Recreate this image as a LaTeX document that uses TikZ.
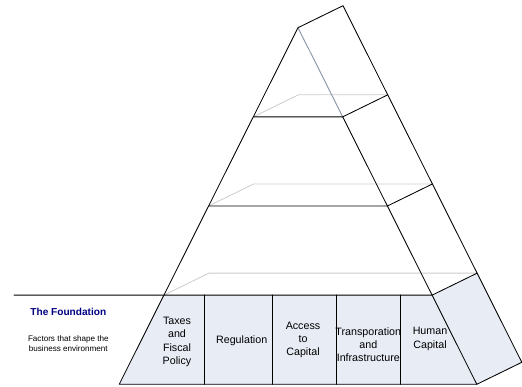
\documentclass[tikz,border=0pt]{standalone}
\usepackage{fontspec}
\setmainfont{Liberation Sans}
\usetikzlibrary{calc}
\definecolor{BaseFill}{HTML}{E8ECF5}
\definecolor{BackGray}{HTML}{CCCCCC}
\definecolor{EdgeBlue}{HTML}{8F9AAB}
\definecolor{TitleNavy}{HTML}{000080}

\begin{document}
\begin{tikzpicture}[x=1pt,y=-1pt, line cap=round, line join=round]
\useasboundingbox (0,0) rectangle (522,387);

% corner points: front face, back face offset (45,-22)
\coordinate (apex)  at (298,27.7);
\coordinate (apexB) at (343,5.7);
\coordinate (l1L) at (253.3,116.85);  \coordinate (l1R) at (342.7,116.85);
\coordinate (l2L) at (208.6,206);     \coordinate (l2R) at (387.4,206);
\coordinate (l3L) at (163.9,295.15);  \coordinate (l3R) at (432.1,295.15);
\coordinate (botL) at (119.2,384.3);  \coordinate (botR) at (476.8,384.3);
\coordinate (l1B) at (387.7,94.85);
\coordinate (l2B) at (432.4,184);
\coordinate (l3B) at (477.1,273.15);
\coordinate (botB) at (521.8,362.3);

% foundation fills
\fill[BaseFill] (l3L) -- (l3R) -- (botR) -- (botL) -- cycle;
\fill[BaseFill] (l3R) -- (l3B) -- (botB) -- (botR) -- cycle;

% hidden back edges of the tiers
\draw[BackGray, line width=0.8pt] (l1L) -- ++(45,-22) -- (l1B);
\draw[BackGray, line width=0.8pt] (l2L) -- ++(45,-22) -- (l2B);
\draw[BackGray, line width=0.8pt] (l3L) -- ++(45,-22) -- (l3B);

% top tier front-right edge
\draw[EdgeBlue, line width=1pt] (apex) -- (l1R);

% outline
\draw[black, line width=0.85pt] (botL) -- (apex) -- (apexB) -- (botB) -- (botR) -- (botL);
\draw[black, line width=0.85pt] (l1R) -- (botR);
\draw[black, line width=0.85pt] (l1L) -- (l1R) -- (l1B);
\draw[black, line width=0.85pt] (l2L) -- (l2R) -- (l2B);
\draw[black, line width=0.85pt] (14,295.15) -- (l3R) -- (l3B);

% foundation cells
\draw[black, line width=0.85pt] (204,295.15) -- (204,384.3);
\draw[black, line width=0.85pt] (272.7,295.15) -- (272.7,384.3);
\draw[black, line width=0.85pt] (336.7,295.15) -- (336.7,384.3);
\draw[black, line width=0.85pt] (400,295.15) -- (400,384.3);

\node[align=center, font=\fontsize{10.7}{13.3}\selectfont] (taxes) at (177,342) {Taxes\\and\\Fiscal\\Policy};
\node[align=center, font=\fontsize{10.7}{13.3}\selectfont] (regul) at (241.7,341) {Regulation};
\node[align=center, font=\fontsize{10.7}{13.3}\selectfont] (access) at (303,340) {Access\\to\\Capital};
\node[align=center, font=\fontsize{10.7}{13.3}\selectfont] (transp) at (368.3,344.7) {Transporation\\and\\Infrastructure};
\node[align=center, font=\fontsize{10.7}{13.3}\selectfont] (human) at (430,338.8) {Human\\Capital};

% left caption
\node[font=\bfseries\fontsize{10.1}{12}\selectfont, text=TitleNavy] (found) at (68.3,311.7) {The Foundation};
\node[align=center, font=\fontsize{8.1}{10}\selectfont] (factors) at (68.3,343.3) {Factors that shape the\\business environment};

\end{tikzpicture}
\end{document}
